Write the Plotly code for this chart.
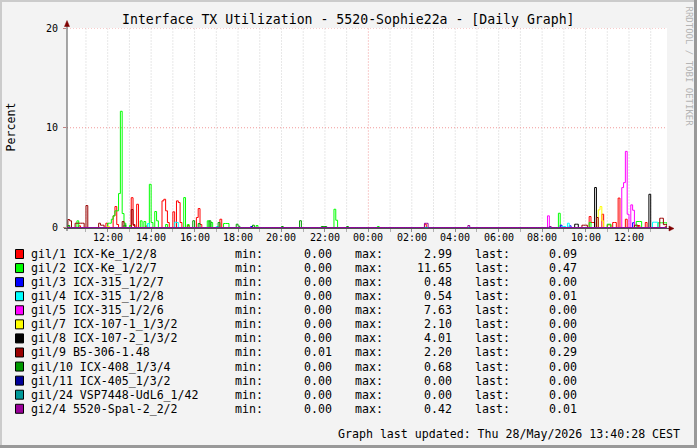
import plotly.graph_objects as go

# ---------------- text ----------------
TITLE = "Interface TX Utilization - 5520-Sophie22a - [Daily Graph]"
Y_TITLE = "Percent"
UPDATED = "Graph last updated: Thu 28/May/2026 13:40:28 CEST"
WATERMARK = "RRDTOOL / TOBI OETIKER"

# ---------------- legend / series meta ----------------
series_names = [
    "gil/1 ICX-Ke_1/2/8", "gil/2 ICX-Ke_1/2/7", "gil/3 ICX-315_1/2/7",
    "gil/4 ICX-315_1/2/8", "gil/5 ICX-315_1/2/6", "gil/7 ICX-107-1_1/3/2",
    "gil/8 ICX-107-2_1/3/2", "gil/9 B5-306-1.48", "gil/10 ICX-408_1/3/4",
    "gil/11 ICX-405_1/3/2", "gil/24 VSP7448-UdL6_1/42", "gi2/4 5520-Spal-2_2/2",
]
series_colors = [
    "#FF0000", "#00FF00", "#0000FF", "#00FFFF", "#FF00FF", "#FFFF00",
    "#000000", "#990000", "#009900", "#000099", "#009999", "#990099",
]
stat_min = [0.00, 0.00, 0.00, 0.00, 0.00, 0.00, 0.00, 0.01, 0.00, 0.00, 0.00, 0.00]
stat_max = [2.99, 11.65, 0.48, 0.54, 7.63, 2.10, 4.01, 2.20, 0.68, 0.00, 0.00, 0.42]
stat_last = [0.09, 0.47, 0.00, 0.01, 0.00, 0.00, 0.00, 0.29, 0.00, 0.00, 0.00, 0.01]

# x axis ticks (hours since midnight of the first day)
tick_hours = [12, 14, 16, 18, 20, 22, 24, 26, 28, 30, 32, 34, 36]
tick_labels = ["12:00", "14:00", "16:00", "18:00", "20:00", "22:00", "00:00",
               "02:00", "04:00", "06:00", "08:00", "10:00", "12:00"]
y_ticks = [0, 10, 20]

# ---------------- readings (5-minute samples, "HH:MM"; day 2 written as HH+24) ----
# every sample not listed reads 0.00 on the graph
gi1_1 = {"10:40": 0.17, "11:55": 0.43, "12:15": 1.17, "12:20": 2.1, "12:25": 0.3,
         "13:05": 2.99, "13:10": 0.2, "13:20": 2.33, "13:45": 0.15, "14:30": 2.67,
         "14:35": 2.83, "14:40": 1.67, "14:45": 0.5, "15:00": 1.57, "15:10": 2.67,
         "15:15": 2.5, "15:20": 0.5, "15:40": 0.2, "16:05": 1.0, "16:10": 1.9,
         "16:15": 0.3, "17:10": 0.83, "26:35": 0.33, "34:10": 1.1, "34:15": 0.5,
         "34:20": 0.5, "34:45": 1.33, "35:00": 0.27, "35:05": 0.27, "35:15": 0.5,
         "35:20": 0.5, "35:30": 2.95, "35:50": 0.83, "36:25": 0.2, "36:45": 0.5,
         "37:40": 0.09}
gi1_2 = {"10:35": 0.67, "12:00": 0.43, "12:05": 0.43, "12:10": 0.83, "12:15": 1.17,
         "12:20": 1.67, "12:25": 1.67, "12:30": 3.4, "12:35": 11.65, "12:40": 1.4,
         "12:45": 0.43, "13:00": 0.2, "13:30": 0.67, "13:40": 0.6, "13:55": 4.33,
         "14:00": 0.5, "14:10": 1.6, "14:15": 0.67, "14:40": 0.3, "15:30": 3.0,
         "15:40": 0.3, "16:35": 0.67, "16:45": 0.5, "17:20": 0.4, "17:25": 0.4,
         "17:30": 0.4, "18:50": 0.2, "22:25": 1.83, "22:30": 0.73, "24:25": 0.1,
         "32:45": 1.43, "34:10": 0.5, "35:00": 0.33, "35:05": 0.33, "36:20": 0.6,
         "36:25": 0.6, "36:30": 0.6, "37:20": 0.47, "37:25": 0.47, "37:30": 0.47,
         "37:35": 0.47, "37:40": 0.47}
gi1_3 = {"18:35": 0.1, "32:50": 0.23, "33:15": 0.17, "36:10": 0.48}
gi1_4 = {"13:50": 0.4, "15:05": 0.54, "15:10": 0.5, "17:00": 0.1, "32:55": 0.1,
         "33:00": 0.1, "33:10": 0.43, "37:05": 0.53, "37:10": 0.53, "37:15": 0.53,
         "37:40": 0.01}
gi1_5 = {"32:15": 1.17, "35:40": 4.0, "35:45": 4.5, "35:50": 7.63, "35:55": 1.33,
         "36:05": 2.27, "36:10": 1.73}
gi1_7 = {"12:00": 0.1, "34:35": 1.77, "34:40": 2.1, "34:45": 0.67}
gi1_8 = {"33:30": 0.33, "33:35": 0.33, "34:25": 4.01, "36:55": 3.33}
gi1_9 = {"10:10": 0.8, "10:15": 0.67, "10:30": 0.43, "10:35": 0.43, "10:40": 0.43,
         "10:45": 0.43, "10:50": 0.43, "11:00": 2.2, "11:35": 0.43, "11:40": 0.23,
         "11:45": 0.23, "12:40": 0.6, "13:05": 1.8, "13:10": 0.3, "33:50": 0.23,
         "33:55": 0.23, "34:00": 0.23, "34:30": 1.0, "36:15": 0.23, "36:20": 0.23,
         "37:25": 0.93, "37:30": 0.93, "37:35": 0.29, "37:40": 0.29}
gi1_10 = {"10:10": 0.2, "12:45": 0.25, "15:55": 0.68, "16:10": 0.4, "16:40": 0.67,
          "17:05": 0.5, "17:55": 0.33, "18:00": 0.13, "18:40": 0.23, "20:00": 0.1,
          "20:50": 0.68, "21:50": 0.1, "21:55": 0.1, "22:00": 0.1, "23:00": 0.1}
gi1_11 = {}
gi1_24 = {}
gi2_4 = {"26:35": 0.42, "26:40": 0.42, "28:35": 0.2, "32:20": 0.1, "37:40": 0.01}

series_readings = [gi1_1, gi1_2, gi1_3, gi1_4, gi1_5, gi1_7, gi1_8, gi1_9,
                   gi1_10, gi1_11, gi1_24, gi2_4]

# ---------------- geometry helpers (pixel -> paper) ----------------
W, H = 697, 448
L, T, PW, PH = 67, 28, 600, 200
X_RANGE = [10.126, 37.75]


def fx(px):
    return (px - L) / PW


def fy(py):
    return (T + PH - py) / PH


def hours(s):
    h, m = s.split(":")
    return int(h) + int(m) / 60.0


STEP = 5 / 60.0
T_START = 10 + 5 / 60.0
N = int(round((37 + 45 / 60.0 - T_START) / STEP)) + 1
slots = [T_START + i * STEP for i in range(N)]

fig = go.Figure()
for name, color, readings in zip(series_names, series_colors, series_readings):
    vals = [0.0] * N
    for k, v in readings.items():
        idx = int(round((hours(k) - T_START) / STEP))
        if 0 <= idx < N:
            vals[idx] = v
    fig.add_trace(go.Scatter(
        x=slots, y=vals, mode="lines", name=name,
        line=dict(color=color, width=1, shape="hv"),
        hoverinfo="skip", showlegend=False,
    ))

MONO = "DejaVu Sans Mono"
shapes = []
# vertical hour grid
for h in range(11, 38):
    red = (h % 24 == 0)
    shapes.append(dict(type="line", xref="x", yref="y", x0=h, x1=h, y0=0, y1=20,
                       layer="below",
                       line=dict(color="#F19A9A" if red else "#CFCFCF", width=1,
                                 dash="1px,2px")))
# horizontal major grid
for yv in y_ticks[1:]:
    shapes.append(dict(type="line", xref="x", yref="y", x0=X_RANGE[0], x1=X_RANGE[1],
                       y0=yv, y1=yv, layer="below",
                       line=dict(color="#F19A9A", width=1, dash="1px,2px")))
# axes lines
shapes.append(dict(type="line", xref="paper", yref="paper", x0=fx(67), x1=fx(67),
                   y0=fy(231), y1=fy(24), line=dict(color="#505050", width=1)))
shapes.append(dict(type="line", xref="paper", yref="paper", x0=fx(64), x1=fx(670),
                   y0=fy(228.5), y1=fy(228.5), layer="below",
                   line=dict(color="#505050", width=1)))
# arrow heads
shapes.append(dict(type="path", xref="paper", yref="paper",
                   path="M %f %f L %f %f L %f %f Z" % (fx(64.5), fy(26.5), fx(69.5), fy(26.5),
                                                       fx(67), fy(20.5)),
                   fillcolor="#7F0000", line=dict(color="#7F0000", width=0.5)))
shapes.append(dict(type="path", xref="paper", yref="paper",
                   path="M %f %f L %f %f L %f %f Z" % (fx(669), fy(226), fx(669), fy(231),
                                                       fx(674), fy(228.5)),
                   fillcolor="#7F0000", line=dict(color="#7F0000", width=0.5)))
# image frame (light top/left, dark bottom/right)
shapes.append(dict(type="line", xref="paper", yref="paper", x0=fx(0), x1=fx(W),
                   y0=fy(1), y1=fy(1), line=dict(color="#CBCBCB", width=2)))
shapes.append(dict(type="line", xref="paper", yref="paper", x0=fx(1), x1=fx(1),
                   y0=fy(0), y1=fy(H), line=dict(color="#CBCBCB", width=2)))
shapes.append(dict(type="line", xref="paper", yref="paper", x0=fx(0), x1=fx(W),
                   y0=fy(H - 1.5), y1=fy(H - 1.5), line=dict(color="#999999", width=3)))
shapes.append(dict(type="line", xref="paper", yref="paper", x0=fx(W - 1.5), x1=fx(W - 1.5),
                   y0=fy(0), y1=fy(H), line=dict(color="#999999", width=3)))

annotations = []


def txt(text, x, y, anchor="left", size=11.6, color="#000000", angle=0, xref="paper"):
    annotations.append(dict(text=text, x=fx(x) if xref == "paper" else x, y=fy(y),
                            xref=xref, yref="paper",
                            xanchor=anchor, yanchor="middle", showarrow=False,
                            borderpad=0, textangle=angle,
                            font=dict(family=MONO, size=size, color=color)))


txt(TITLE, 348, 19.5, anchor="center", size=13.2)
txt(Y_TITLE, 10.5, 127, anchor="center", size=11.6, angle=-90)
txt(WATERMARK, 688.5, 66, anchor="center", size=9, color="#B4B4B4", angle=90)
txt(UPDATED, 681, 434.5, anchor="right", size=11.6)

# x tick labels, placed on the time axis
for hv, lab in zip(tick_hours, tick_labels):
    txt(lab, hv, 237.5, anchor="center", size=10, xref="x")

ROW0, ROWH = 254, 14.07
for i, name in enumerate(series_names):
    cy = ROW0 + i * ROWH
    shapes.append(dict(type="rect", xref="paper", yref="paper",
                       x0=fx(15.5), x1=fx(23.5), y0=fy(cy + 4.5), y1=fy(cy - 4.5),
                       fillcolor=series_colors[i], line=dict(color="#000000", width=1)))
    txt(name, 30, cy)
    txt("min:", 234, cy)
    txt("%.2f" % stat_min[i], 332.5, cy, anchor="right")
    txt("max:", 354, cy)
    txt("%.2f" % stat_max[i], 452.5, cy, anchor="right")
    txt("last:", 474, cy)
    txt("%.2f" % stat_last[i], 578, cy, anchor="right")

fig.update_layout(
    width=W, height=H,
    margin=dict(l=L, r=W - L - PW, t=T, b=H - T - PH, pad=0),
    paper_bgcolor="#F3F3F3", plot_bgcolor="#FFFFFF",
    font=dict(family=MONO, size=10, color="#000000"),
    shapes=shapes, annotations=annotations,
    xaxis=dict(range=X_RANGE, tickmode="array", tickvals=tick_hours, ticktext=tick_labels,
               showticklabels=False,
               ticks="outside", ticklen=3, tickcolor="#909090", tickwidth=1,
               minor=dict(tickvals=list(range(11, 38, 2)), ticks="outside", ticklen=3,
                          tickcolor="#B0B0B0", showgrid=False),
               showgrid=False, zeroline=False, showline=False, fixedrange=True),
    yaxis=dict(range=[-0.05, 20], tickmode="array", tickvals=y_ticks,
               ticktext=[str(v) for v in y_ticks], ticklabelstandoff=3,
               ticks="outside", ticklen=3, tickcolor="#C08080", tickwidth=1,
               showgrid=False, zeroline=False, showline=False,
               tickfont=dict(family=MONO, size=10, color="#000000"), fixedrange=True),
)

fig.write_html("out.html")
